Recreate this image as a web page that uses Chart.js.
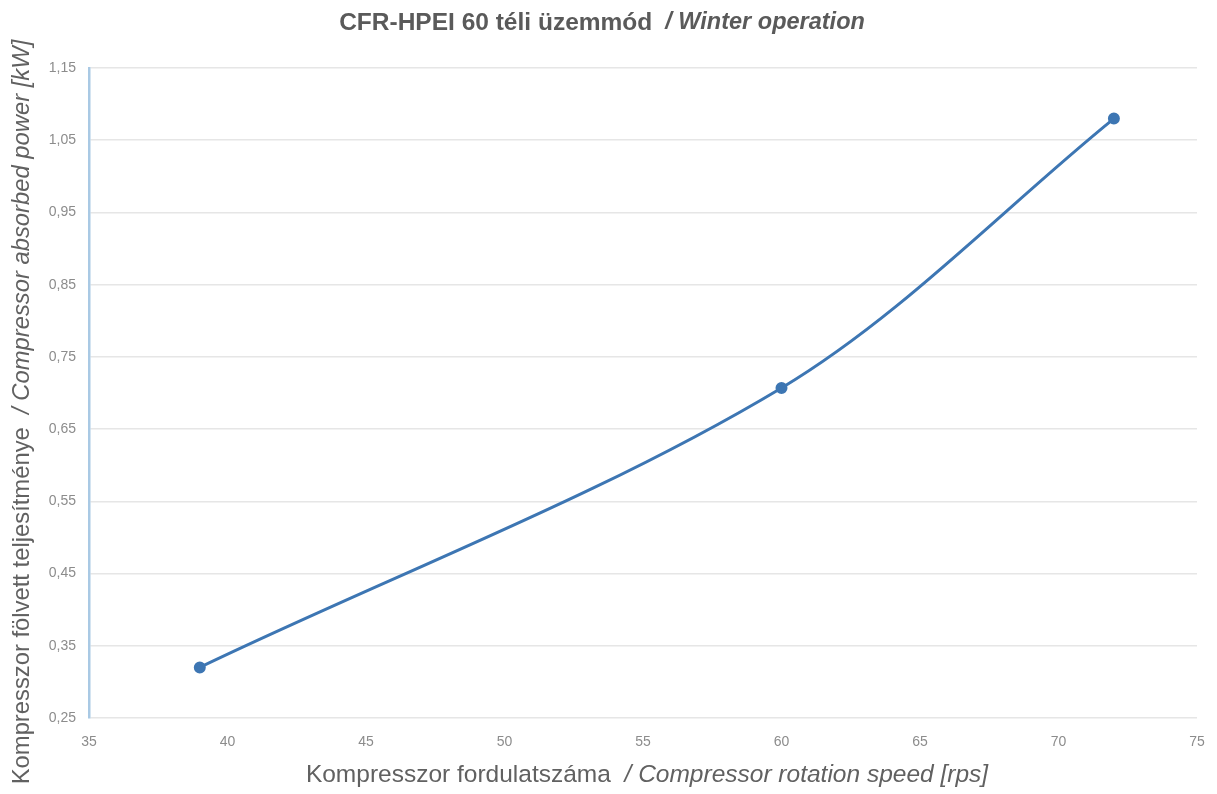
<!DOCTYPE html>
<html>
<head>
<meta charset="utf-8">
<script src="https://cdn.jsdelivr.net/npm/chart.js@4.4.1/dist/chart.umd.min.js"></script>
<style>
html,body{margin:0;padding:0;background:#fff;}
#wrap{width:1217px;height:794px;position:relative;}
</style>
</head>
<body>
<div id="wrap"><canvas id="c" width="1217" height="794"></canvas></div>
<script>
const speeds = [39, 60, 72];
const power = [0.32, 0.707, 1.08];
const xTicks = [35, 40, 45, 50, 55, 60, 65, 70, 75];
const yTicks = [0.25, 0.35, 0.45, 0.55, 0.65, 0.75, 0.85, 0.95, 1.05, 1.15];
const titleMain = 'CFR-HPEI 60 téli üzemmód';
const titleEn = '  / Winter operation';
const yTitleMain = 'Kompresszor fölvett teljesítménye';
const yTitleEn = '  / Compressor absorbed power [kW]';
const xTitleMain = 'Kompresszor fordulatszáma';
const xTitleEn = '  / Compressor rotation speed [rps]';

const textColor = '#616161';

function drawMixed(ctx, parts, cx, cy) {
  let total = 0;
  parts.forEach(p => { ctx.font = p.font; p.w = ctx.measureText(p.text).width; total += p.w; });
  let x = cx - total / 2;
  ctx.textBaseline = 'middle';
  ctx.textAlign = 'left';
  parts.forEach(p => { ctx.font = p.font; ctx.fillStyle = p.color; ctx.fillText(p.text, x, cy); x += p.w; });
}

const titlesPlugin = {
  id: 'titles',
  afterDraw(chart) {
    const ctx = chart.ctx;
    ctx.save();
    drawMixed(ctx, [
      {text: titleMain, font: 'bold 24.5px "Liberation Sans", Arial, sans-serif', color: '#5a5a5a'},
      {text: titleEn, font: 'italic bold 23.5px "Liberation Sans", Arial, sans-serif', color: '#5a5a5a'}
    ], 602, 23);
    drawMixed(ctx, [
      {text: xTitleMain, font: '24.5px "Liberation Sans", Arial, sans-serif', color: textColor},
      {text: xTitleEn, font: 'italic 24.5px "Liberation Sans", Arial, sans-serif', color: textColor}
    ], 647, 775);
    ctx.translate(22, 412);
    ctx.rotate(-Math.PI / 2);
    drawMixed(ctx, [
      {text: yTitleMain, font: '23.8px "Liberation Sans", Arial, sans-serif', color: textColor},
      {text: yTitleEn, font: 'italic 23.8px "Liberation Sans", Arial, sans-serif', color: textColor}
    ], 0, 0);
    ctx.restore();
  }
};

const fmt = v => v.toFixed(2).replace('.', ',');

new Chart(document.getElementById('c'), {
  type: 'line',
  data: {
    datasets: [{
      data: speeds.map((s, i) => ({x: s, y: power[i]})),
      borderColor: '#3d76b3',
      backgroundColor: '#3d76b3',
      borderWidth: 3,
      pointRadius: 4.5,
      pointHoverRadius: 4.5,
      tension: 0.33,
      fill: false
    }]
  },
  options: {
    responsive: false,
    animation: false,
    layout: {padding: {top: 68, right: 20, left: 0, bottom: 0}},
    plugins: {legend: {display: false}, tooltip: {enabled: false}, title: {display: false}},
    scales: {
      x: {
        type: 'linear',
        min: 35, max: 75,
        afterBuildTicks: s => { s.ticks = xTicks.map(v => ({value: v})); },
        afterFit: s => { s.height = 76; s.paddingLeft = 0; s.paddingRight = 0; },
        grid: {display: false, drawTicks: false},
        border: {display: false},
        ticks: {
          color: '#8c8c8c',
          font: {family: '"Liberation Sans", Arial, sans-serif', size: 14},
          padding: 16,
          maxRotation: 0,
          callback: v => String(v)
        }
      },
      y: {
        type: 'linear',
        min: 0.25, max: 1.15,
        afterBuildTicks: s => { s.ticks = yTicks.map(v => ({value: v})); },
        afterFit: s => { s.width = 89; s.paddingTop = 0; s.paddingBottom = 0; },
        grid: {color: '#e6e6e6', lineWidth: 1.5, drawTicks: false},
        border: {display: true, color: '#a9c9e4', width: 2.5},
        ticks: {
          color: '#8c8c8c',
          font: {family: '"Liberation Sans", Arial, sans-serif', size: 14},
          padding: 13,
          callback: v => fmt(v)
        }
      }
    }
  },
  plugins: [titlesPlugin]
});
</script>
</body>
</html>
